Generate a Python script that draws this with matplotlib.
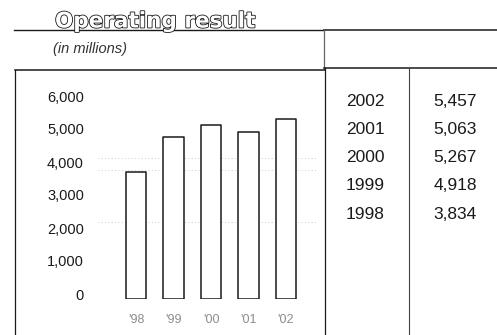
import matplotlib.pyplot as plt
import matplotlib.patheffects as pe
from matplotlib import transforms

# Operating result, in millions
years = [1998, 1999, 2000, 2001, 2002]
short_labels = ["'98", "'99", "'00", "'01", "'02"]
operating_result = [3834, 4918, 5267, 5063, 5457]
y_ticks = [0, 1000, 2000, 3000, 4000, 5000, 6000]

W, H, DPI = 497, 335, 100
fig = plt.figure(figsize=(W / DPI, H / DPI), dpi=DPI)
fig.patch.set_facecolor('white')

# full-figure overlay in pixel units (y grows downward) for frames and text
frame = fig.add_axes([0, 0, 1, 1])
frame.set_xlim(0, W)
frame.set_ylim(H, 0)
frame.axis('off')

ink = '#1a1a1a'

# title with hollow letters
frame.text(55, 27.5, 'Operating result', fontsize=15.5, fontweight='bold',
           family='DejaVu Sans', color='white', ha='left', va='baseline',
           path_effects=[pe.Stroke(linewidth=1.2, foreground=ink), pe.Normal()])
frame.plot([14, 324], [30, 30], color=ink, lw=1.0)
frame.text(53, 49, '(in millions)', fontsize=10.5, style='italic',
           family='Liberation Sans', color='#333333', ha='left', va='center')

# header box on the right
frame.plot([324, 497], [30, 30], color=ink, lw=1.1)
frame.plot([324, 324], [30, 68], color='#666666', lw=0.9)
frame.plot([324, 497], [68, 68], color=ink, lw=1.1)

# chart box
frame.plot([15, 325], [70, 70], color=ink, lw=1.1)
frame.plot([15, 15], [70, H], color=ink, lw=0.9)
frame.plot([325, 325], [68, H], color=ink, lw=0.9)
# column divider of the table
frame.plot([409, 409], [68, H], color='#444444', lw=0.8)

# faint dotted guides across the plot area
for gy in (158, 170, 222):
    frame.plot([98, 318], [gy, gy], color='#bbbbbb', lw=0.6, ls=(0, (1, 3)))

# table of values, latest year first
for i, (yr, val) in enumerate(zip(years[::-1], operating_result[::-1])):
    ty = 101 + i * 28.3
    frame.text(365, ty, str(yr), fontsize=12.5, family='Liberation Sans',
               color=ink, ha='center', va='center')
    frame.text(477, ty, f'{val:,}', fontsize=12.5, family='Liberation Sans',
               color=ink, ha='right', va='center')

# bar chart
left_px, right_px = 117.25, 304.75
base_px, top_px = 299, 101
ax = fig.add_axes([left_px / W, (H - base_px) / H,
                   (right_px - left_px) / W, (base_px - top_px) / H])
ax.patch.set_alpha(0)
x = range(len(years))
bars = ax.bar(x, operating_result, width=0.54, color='white', edgecolor=ink,
              linewidth=1.1, zorder=3)
for b in bars:
    b.set_joinstyle('round')
ax.set_xlim(-0.5, len(years) - 0.5)
ax.set_ylim(0, 6000)
for s in ax.spines.values():
    s.set_visible(False)

ax.set_yticks(y_ticks)
ax.set_yticklabels([f'{v:,}' for v in y_ticks], fontsize=10.5,
                   family='Liberation Sans', color=ink)
ax.tick_params(axis='y', length=0, pad=24)
shift = transforms.ScaledTranslation(0, 5 / DPI, fig.dpi_scale_trans)
for lab in ax.get_yticklabels():
    lab.set_transform(lab.get_transform() + shift)

ax.set_xticks(list(x))
ax.set_xticklabels(short_labels, fontsize=9, family='Liberation Sans',
                   color='#8c8c8c')
ax.tick_params(axis='x', length=0, pad=11)

fig.savefig('out.png', dpi=DPI, facecolor='white')
